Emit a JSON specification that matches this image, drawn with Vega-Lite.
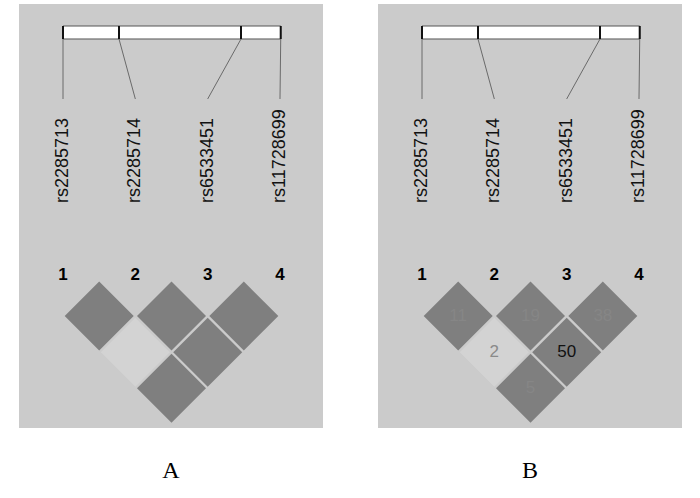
{
  "$schema": "https://vega.github.io/schema/vega-lite/v6.json",
  "padding": {"left": 19, "top": 4, "right": 0, "bottom": 0},
  "background": "white",
  "config": {
    "view": {"stroke": null, "fill": "#cbcbcb"},
    "axis": {"disable": true}
  },
  "data": {
    "values": [
      {"panel": "A", "type": "gene", "start": 1, "end": 4.01},
      {"panel": "A", "type": "snp", "idx": 1, "name": "rs2285713", "pos": 1},
      {"panel": "A", "type": "snp", "idx": 2, "name": "rs2285714", "pos": 1.774},
      {"panel": "A", "type": "snp", "idx": 3, "name": "rs6533451", "pos": 3.461},
      {"panel": "A", "type": "snp", "idx": 4, "name": "rs11728699", "pos": 4.01},
      {"panel": "A", "type": "ld", "i": 1, "j": 2, "mid": 1.5, "depth": 1, "shade": "dark", "label": "", "tone": "faint"},
      {"panel": "A", "type": "ld", "i": 2, "j": 3, "mid": 2.5, "depth": 1, "shade": "dark", "label": "", "tone": "faint"},
      {"panel": "A", "type": "ld", "i": 3, "j": 4, "mid": 3.5, "depth": 1, "shade": "dark", "label": "", "tone": "faint"},
      {"panel": "A", "type": "ld", "i": 1, "j": 3, "mid": 2, "depth": 2, "shade": "light", "label": "", "tone": "faint"},
      {"panel": "A", "type": "ld", "i": 2, "j": 4, "mid": 3, "depth": 2, "shade": "dark", "label": "", "tone": "faint"},
      {"panel": "A", "type": "ld", "i": 1, "j": 4, "mid": 2.5, "depth": 3, "shade": "dark", "label": "", "tone": "faint"},
      {"panel": "B", "type": "gene", "start": 1, "end": 4.01},
      {"panel": "B", "type": "snp", "idx": 1, "name": "rs2285713", "pos": 1},
      {"panel": "B", "type": "snp", "idx": 2, "name": "rs2285714", "pos": 1.774},
      {"panel": "B", "type": "snp", "idx": 3, "name": "rs6533451", "pos": 3.461},
      {"panel": "B", "type": "snp", "idx": 4, "name": "rs11728699", "pos": 4.01},
      {"panel": "B", "type": "ld", "i": 1, "j": 2, "mid": 1.5, "depth": 1, "shade": "dark", "label": "11", "tone": "faint"},
      {"panel": "B", "type": "ld", "i": 2, "j": 3, "mid": 2.5, "depth": 1, "shade": "dark", "label": "19", "tone": "faint"},
      {"panel": "B", "type": "ld", "i": 3, "j": 4, "mid": 3.5, "depth": 1, "shade": "dark", "label": "38", "tone": "faint"},
      {"panel": "B", "type": "ld", "i": 1, "j": 3, "mid": 2, "depth": 2, "shade": "light", "label": "2", "tone": "mid"},
      {"panel": "B", "type": "ld", "i": 2, "j": 4, "mid": 3, "depth": 2, "shade": "dark", "label": "50", "tone": "strong"},
      {"panel": "B", "type": "ld", "i": 1, "j": 4, "mid": 2.5, "depth": 3, "shade": "dark", "label": "5", "tone": "faint"}
    ]
  },
  "facet": {
    "column": {
      "field": "panel",
      "type": "nominal",
      "sort": ["A", "B"],
      "title": null,
      "header": {
        "labelOrient": "bottom",
        "labelFont": "Liberation Serif",
        "labelFontSize": 24,
        "labelColor": "black",
        "labelPadding": 31
      }
    }
  },
  "spacing": 55,
  "spec": {
    "width": 304,
    "height": 424,
    "layer": [
      {
        "transform": [{"filter": "datum.type === 'gene'"}],
        "mark": {"type": "rect", "fill": "white", "stroke": "#555555", "strokeWidth": 1},
        "encoding": {
          "x": {"field": "start", "type": "quantitative", "scale": {"domain": [0.3917, 4.5945], "nice": false, "zero": false}},
          "x2": {"field": "end"},
          "y": {"datum": -7.0184, "type": "quantitative", "scale": {"domain": [-7.6267, 4.0968], "reverse": true, "nice": false, "zero": false}},
          "y2": {"datum": -6.659}
        }
      },
      {
        "transform": [{"filter": "datum.type === 'snp'"}],
        "mark": {"type": "rule", "color": "#111111", "strokeWidth": 2},
        "encoding": {
          "x": {"field": "pos", "type": "quantitative", "scale": {"domain": [0.3917, 4.5945], "nice": false, "zero": false}},
          "y": {"datum": -7.0184, "type": "quantitative", "scale": {"domain": [-7.6267, 4.0968], "reverse": true, "nice": false, "zero": false}},
          "y2": {"datum": -6.659}
        }
      },
      {
        "transform": [{"filter": "datum.type === 'snp'"}],
        "mark": {"type": "rule", "color": "#6a6a6a", "strokeWidth": 1},
        "encoding": {
          "x": {"field": "pos", "type": "quantitative", "scale": {"domain": [0.3917, 4.5945], "nice": false, "zero": false}},
          "x2": {"field": "idx"},
          "y": {"datum": -6.659, "type": "quantitative", "scale": {"domain": [-7.6267, 4.0968], "reverse": true, "nice": false, "zero": false}},
          "y2": {"datum": -5.0}
        }
      },
      {
        "transform": [{"filter": "datum.type === 'snp'"}],
        "mark": {"type": "text", "angle": 270, "align": "left", "baseline": "middle", "font": "Liberation Sans", "fontSize": 18, "color": "#111111"},
        "encoding": {
          "x": {"field": "idx", "type": "quantitative", "scale": {"domain": [0.3917, 4.5945], "nice": false, "zero": false}},
          "y": {"datum": -2.1244, "type": "quantitative", "scale": {"domain": [-7.6267, 4.0968], "reverse": true, "nice": false, "zero": false}},
          "text": {"field": "name"}
        }
      },
      {
        "transform": [{"filter": "datum.type === 'snp'"}],
        "mark": {"type": "text", "align": "center", "baseline": "middle", "font": "Liberation Sans", "fontSize": 17, "fontWeight": "bold", "color": "#000000"},
        "encoding": {
          "x": {"field": "idx", "type": "quantitative", "scale": {"domain": [0.3917, 4.5945], "nice": false, "zero": false}},
          "y": {"datum": -0.12, "type": "quantitative", "scale": {"domain": [-7.6267, 4.0968], "reverse": true, "nice": false, "zero": false}},
          "text": {"field": "idx"}
        }
      },
      {
        "transform": [{"filter": "datum.type === 'ld'"}],
        "mark": {"type": "point", "shape": "diamond", "filled": true, "opacity": 1, "size": 4761, "strokeWidth": 0},
        "encoding": {
          "x": {"field": "mid", "type": "quantitative", "scale": {"domain": [0.3917, 4.5945], "nice": false, "zero": false}},
          "y": {"field": "depth", "type": "quantitative", "scale": {"domain": [-7.6267, 4.0968], "reverse": true, "nice": false, "zero": false}},
          "fill": {"field": "shade", "type": "nominal", "scale": {"domain": ["dark", "light"], "range": ["#7f7f7f", "#d3d3d3"]}, "legend": null}
        }
      },
      {
        "transform": [{"filter": "datum.type === 'ld' && datum.label !== ''"}],
        "mark": {"type": "text", "align": "center", "baseline": "middle", "font": "Liberation Sans", "fontSize": 17},
        "encoding": {
          "x": {"field": "mid", "type": "quantitative", "scale": {"domain": [0.3917, 4.5945], "nice": false, "zero": false}},
          "y": {"field": "depth", "type": "quantitative", "scale": {"domain": [-7.6267, 4.0968], "reverse": true, "nice": false, "zero": false}},
          "text": {"field": "label"},
          "color": {"field": "tone", "type": "nominal", "scale": {"domain": ["faint", "mid", "strong"], "range": ["#868686", "#8a8a8a", "#111111"]}, "legend": null}
        }
      }
    ]
  }
}
